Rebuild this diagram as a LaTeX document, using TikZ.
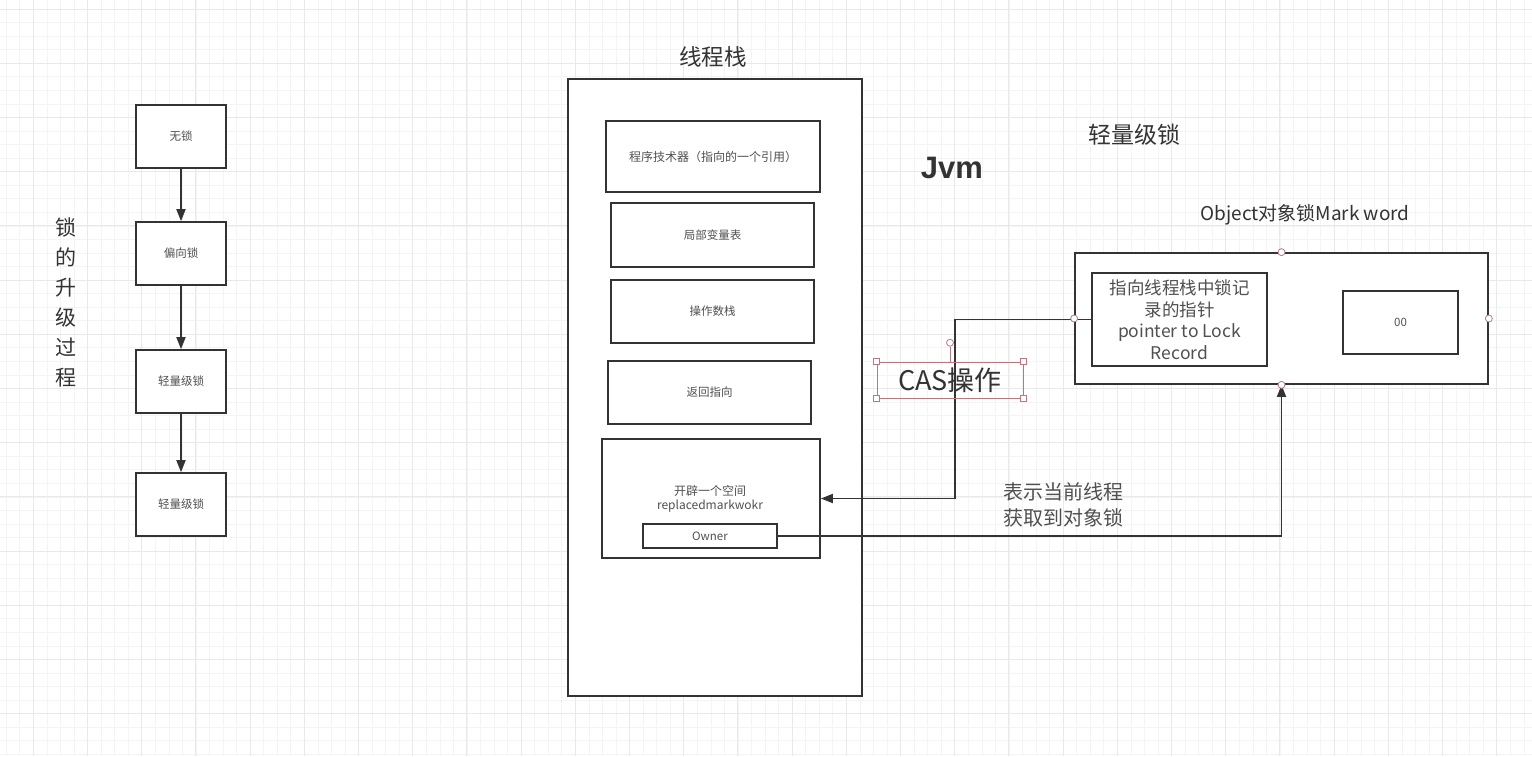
\documentclass[tikz,border=0pt]{standalone}
\usepackage{fontspec}
\setmainfont{Noto Sans CJK SC}
\newfontfamily\jvmfont{Liberation Sans}
\usepackage{xcolor}
\usetikzlibrary{arrows.meta, positioning}
\definecolor{linegray}{HTML}{333333}
\definecolor{textgray}{HTML}{505050}
\definecolor{titlegray}{HTML}{333333}
\definecolor{handlepink}{HTML}{B87880}
\definecolor{minorgrid}{HTML}{F4F4F4}
\definecolor{majorgrid}{HTML}{E9E9E9}

\begin{document}
\begin{tikzpicture}[
  x=1pt,
  y=-1pt,
  box/.style={
    rectangle,
    draw=linegray,
    line width=1.7pt,
    fill=white,
    inner sep=0pt,
    align=center,
    text=textgray,
    font=\fontsize{11.5}{13}\selectfont
  },
  lockbox/.style={box, minimum width=90pt, minimum height=63pt},
  stackitem/.style={box, minimum width=203pt, minimum height=63pt},
  arrow/.style={-{Triangle[length=12pt,width=9pt]}, draw=linegray, line width=1.8pt},
  title/.style={text=titlegray, inner sep=0pt, align=center},
  handle/.style={circle, draw=handlepink, fill=white, inner sep=0pt,
    minimum size=7pt, line width=0.8pt},
  selcorner/.style={rectangle, draw=handlepink, fill=white, inner sep=0pt,
    minimum size=6pt, line width=0.8pt}
]

\fill[white] (0,0) rectangle (1532,756);
\useasboundingbox (0,0) rectangle (1532,756);
\foreach \i in {0,...,112}
  \draw[minorgrid, line width=0.6pt] ({6.2+\i*13.55},0) -- ++(0,756);
\foreach \i in {0,...,55}
  \draw[minorgrid, line width=0.6pt] (0,{9+\i*13.55}) -- ++(1532,0);
\foreach \i in {0,...,27}
  \draw[majorgrid, line width=1pt] ({33.3+\i*54.2},0) -- ++(0,756);
\foreach \i in {0,...,13}
  \draw[majorgrid, line width=1pt] (0,{9+\i*54.2}) -- ++(1532,0);

\node[title, font=\fontsize{21}{30}\selectfont] (upgrade) at (66,302)
{锁\\的\\升\\级\\过\\程};

\node[lockbox] (nolock) at (181,136.5) {无锁};
\node[lockbox] (biased) at (181,253.5) {偏向锁};
\node[lockbox] (light) at (181,381.5) {轻量级锁};
\node[lockbox] (lightb) at (181,504.5) {轻量级锁};

\draw[arrow] (nolock) -- (biased);
\draw[arrow] (biased) -- (light);
\draw[arrow] (light) -- (lightb);

\node[title, font=\fontsize{22.5}{24}\selectfont] (stacktitle) at (713,57) {线程栈};
\node[box, minimum width=294pt, minimum height=617pt] (stack) at (715,387.5) {};
\node[box, minimum width=214pt, minimum height=71pt, font=\fontsize{12}{14}\selectfont]
(pc) at (713,156.5) {程序技术器（指向的一个引用）};
\node[stackitem, minimum height=64pt] (locals) at (712.5,235) {局部变量表};
\node[stackitem] (operands) at (712.5,311.5) {操作数栈};
\node[stackitem] (retaddr) at (709.5,392.5) {返回指向};
\node[box, minimum width=218pt, minimum height=119pt] (space) at (711,498.5) {};
\node[title, text=textgray, font=\fontsize{12}{14}\selectfont] (spacetext) at (710,499)
{开辟一个空间\\replacedmarkwokr};
\node[box, minimum width=134pt, minimum height=24pt] (owner) at (710,536) {Owner};

\node[title, font=\jvmfont\bfseries\fontsize{31}{34}\selectfont] (jvm) at (952,168) {Jvm};
\node[title, font=\fontsize{23}{26}\selectfont] (lighttitle) at (1134,135) {轻量级锁};
\node[title, font=\fontsize{19}{21}\selectfont] (marktitle) at (1305,215)
{Object对象锁Mark word};

\node[box, minimum width=413pt, minimum height=131pt] (markword) at (1281.5,318.5) {};
\node[box, minimum width=175pt, minimum height=93pt, font=\fontsize{17.5}{21.5}\selectfont]
(lockptr) at (1179.5,319.5) {指向线程栈中锁记\\录的指针\\pointer to Lock\\Record};
\node[box, minimum width=115pt, minimum height=63pt] (lockbits) at (1400.5,322.5) {00};

\node[title, text=textgray, font=\fontsize{20}{26}\selectfont] (acquired) at (1063,505)
{表示当前线程\\获取到对象锁};

\coordinate (casbend) at (955,319.5);
\draw[arrow] (lockptr.west) -- (casbend) |- (space.east);
\draw[arrow] (owner.east) -| (markword.south);

\node[title, text=linegray, draw=handlepink, line width=0.6pt, minimum width=146pt,
  minimum height=36pt, font=\fontsize{27}{30}\selectfont] (cas) at (950,380) {CAS操作};
\draw[handlepink, line width=0.8pt] (cas.north) -- ++(0,-15);
\node[handle] at ([yshift=19pt]cas.north) {};
\foreach \c in {north west, north east, south west, south east}
  \node[selcorner] at (cas.\c) {};

\foreach \c in {north, south, west, east}
  \node[handle] at (markword.\c) {};

\end{tikzpicture}
\end{document}
